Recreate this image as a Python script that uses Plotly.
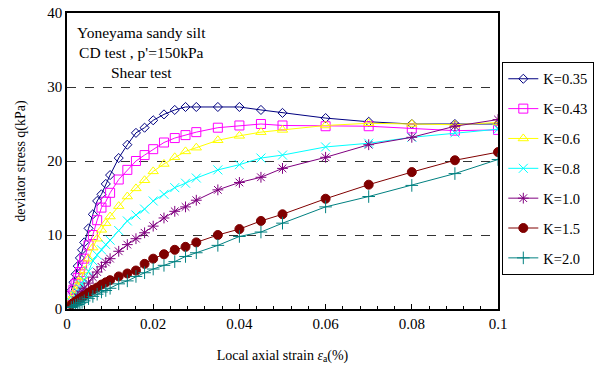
import plotly.graph_objects as go

strain = [0.001, 0.0015, 0.002, 0.0025, 0.003, 0.0035, 0.004, 0.005, 0.006, 0.007, 0.008, 0.009,
          0.010, 0.012, 0.014, 0.016, 0.018, 0.020, 0.0225, 0.025, 0.0275, 0.030, 0.035, 0.040,
          0.045, 0.050, 0.060, 0.070, 0.080, 0.090, 0.100]

q_k035 = [2.5, 3.6, 4.7, 5.8, 6.9, 8.0, 9.0, 10.9, 12.8, 14.6, 15.5, 16.9,
          18.1, 20.4, 22.2, 23.8, 24.5, 25.5, 26.3, 26.9, 27.3, 27.3, 27.3, 27.3,
          26.9, 26.5, 25.8, 25.3, 25.0, 25.0, 25.0]
q_k043 = [1.8, 2.6, 3.4, 4.2, 5.0, 5.9, 6.8, 8.6, 10.0, 12.0, 13.7, 14.5,
          15.7, 17.5, 18.8, 20.0, 20.8, 21.6, 22.5, 23.1, 23.5, 23.9, 24.5, 24.8,
          25.0, 24.8, 24.7, 24.7, 24.4, 24.1, 24.2]
q_k060 = [1.3, 1.9, 2.5, 3.1, 3.7, 4.4, 5.2, 6.8, 8.3, 9.5, 10.7, 11.6,
          12.5, 13.9, 15.2, 16.3, 17.4, 18.6, 19.6, 20.5, 21.3, 21.8, 22.8, 23.4,
          23.9, 24.2, 24.8, 25.1, 25.0, 24.9, 25.2]
q_k080 = [0.9, 1.3, 1.8, 2.3, 2.8, 3.3, 3.9, 5.1, 6.5, 7.3, 8.0, 8.7,
          9.3, 10.6, 11.9, 12.7, 13.5, 14.6, 15.5, 16.4, 17.0, 17.7, 18.8, 19.5,
          20.4, 20.8, 21.9, 22.4, 23.2, 23.8, 24.3]
q_k100 = [0.6, 0.9, 1.2, 1.6, 2.0, 2.4, 2.8, 3.5, 4.3, 5.0, 5.7, 6.3,
          6.8, 7.8, 8.7, 9.5, 10.3, 11.2, 12.3, 13.2, 13.8, 14.7, 16.1, 17.1,
          17.8, 19.0, 20.5, 22.2, 23.2, 24.7, 25.6]
q_k150 = [0.6, 0.8, 1.0, 1.2, 1.4, 1.6, 1.8, 2.2, 2.6, 2.9, 3.3, 3.6,
          3.9, 4.4, 4.8, 5.2, 6.1, 6.8, 7.4, 8.0, 8.4, 9.0, 10.0, 10.8,
          11.9, 12.8, 14.9, 16.8, 18.5, 20.1, 21.2]
q_k200 = [0.2, 0.3, 0.5, 0.6, 0.8, 0.9, 1.1, 1.4, 1.7, 2.0, 2.3, 2.5,
          2.8, 3.4, 3.8, 4.4, 4.9, 5.4, 5.9, 6.4, 7.1, 7.6, 8.6, 9.8,
          10.4, 11.6, 13.8, 15.2, 16.7, 18.3, 20.2]

labels = ["K=0.35", "K=0.43", "K=0.6", "K=0.8", "K=1.0", "K=1.5", "K=2.0"]
series = [q_k035, q_k043, q_k060, q_k080, q_k100, q_k150, q_k200]
colors = ["#000080", "#FF00FF", "#FFFF00", "#00FFFF", "#800080", "#800000", "#008080"]
symbols = ["diamond-open", "square-open", "triangle-up-open", "x-thin-open",
           "asterisk-open", "circle", "cross-thin-open"]
sizes = [7, 9, 9, 9, 9, 9, 9]

fig = go.Figure()
for i, (lab, ys) in enumerate(zip(labels, series)):
    fig.add_trace(go.Scatter(
        x=strain, y=ys, name=lab, mode="lines+markers", legendgroup=lab,
        line=dict(color=colors[i], width=1),
        marker=dict(symbol=symbols[i], size=sizes[i], color=colors[i],
                    line=dict(color=colors[i], width=1)),
    ))

font_family = "Liberation Serif, Times New Roman, serif"

fig.update_layout(
    width=599, height=371,
    margin=dict(l=67, r=101, t=13, b=62, autoexpand=False),
    plot_bgcolor="white", paper_bgcolor="white",
    font=dict(family=font_family, size=15, color="black"),
    showlegend=True,
    legend=dict(x=1.01, y=0.835, xanchor="left", yanchor="top",
                bordercolor="black", borderwidth=1, bgcolor="white",
                font=dict(size=14.5), tracegroupgap=8, itemwidth=30),
    xaxis=dict(range=[0, 0.1], dtick=0.02, tick0=0, showgrid=False, zeroline=False,
               ticks="inside", ticklen=5, tickcolor="black", tickwidth=1,
               minor=dict(dtick=0.004, ticks="inside", ticklen=3, tickcolor="black", showgrid=False),
               showline=True, linecolor="black", linewidth=1.5, mirror=True,
               title=dict(text="Local axial strain <i>ε</i><sub>a</sub>(%)", font=dict(size=14), standoff=19),
               tickfont=dict(size=15)),
    yaxis=dict(range=[0, 40], dtick=10, showgrid=True, gridcolor="#333333", griddash="dash",
               gridwidth=1, zeroline=False, ticks="",
               showline=True, linecolor="black", linewidth=1.5, mirror=True,
               title=dict(text="deviator stress q(kPa)", font=dict(size=14), standoff=18),
               tickfont=dict(size=15)),
    annotations=[dict(x=0.172, y=0.968, xref="paper", yref="paper", xanchor="center", yanchor="top",
                      showarrow=False, align="center",
                      text="Yoneyama sandy silt<br>CD test , p'=150kPa<br>Shear test",
                      font=dict(size=15.5, family=font_family))],
)

fig.write_html("out.html")
